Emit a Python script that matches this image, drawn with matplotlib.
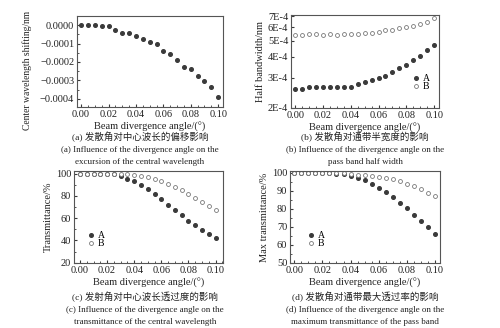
import numpy as np
import matplotlib
matplotlib.use("Agg")
import matplotlib.pyplot as plt
from matplotlib.ticker import FuncFormatter, MultipleLocator, FixedLocator, NullFormatter

plt.rcParams['font.family'] = ['Liberation Serif', 'Noto Sans CJK SC']
plt.rcParams['font.size'] = 7.5

# beam divergence angle, degrees
angle = [0.000, 0.005, 0.010, 0.015, 0.020, 0.025, 0.030, 0.035, 0.040, 0.045, 0.050,
         0.055, 0.060, 0.065, 0.070, 0.075, 0.080, 0.085, 0.090, 0.095, 0.100]

# (a) center wavelength shift, nm
shift = [0.0, 0.0, 0.0, -0.000007, -0.000007, -0.000025, -0.00004, -0.00004, -0.000057,
         -0.000075, -0.00009, -0.000105, -0.00014, -0.000155, -0.00019, -0.000225,
         -0.00024, -0.000275, -0.000305, -0.000338, -0.000388]

# (b) half bandwidth, nm
hbw_a = [2.57e-4, 2.57e-4, 2.66e-4, 2.66e-4, 2.66e-4, 2.66e-4, 2.66e-4, 2.66e-4, 2.66e-4,
         2.75e-4, 2.83e-4, 2.91e-4, 2.99e-4, 3.08e-4, 3.24e-4, 3.42e-4, 3.58e-4,
         3.82e-4, 4.08e-4, 4.42e-4, 4.72e-4]
hbw_b = [5.4e-4, 5.4e-4, 5.5e-4, 5.5e-4, 5.42e-4, 5.5e-4, 5.4e-4, 5.48e-4, 5.48e-4,
         5.48e-4, 5.58e-4, 5.58e-4, 5.65e-4, 5.75e-4, 5.82e-4, 5.92e-4, 6.0e-4,
         6.12e-4, 6.3e-4, 6.45e-4, 6.8e-4]

# (c) transmittance, %
tr_a = [100, 100, 100, 100, 100, 99.5, 97.5, 95.5, 93, 90, 86.5, 82, 77, 72, 67,
        62.5, 57.5, 53.5, 49.5, 46, 42.5]
tr_b = [100, 100, 100, 100, 100, 100, 100, 99.6, 98.6, 97.4, 96.5, 95, 93, 90.5, 88,
        85, 81.5, 78, 74.5, 71, 67.5]

# (d) max transmittance, %
mt_a = [100, 100, 100, 100, 100, 100, 99.6, 99.3, 98.3, 97.2, 96, 94.1, 91.9, 89.4,
        86.7, 83.5, 80.4, 76.9, 73.3, 69.8, 66.3]
mt_b = [100, 100, 100, 100, 100, 100, 100, 99.8, 99.5, 99.1, 98.9, 98.5, 98, 97.2,
        96.5, 95.4, 93.9, 92.6, 91, 89.1, 87]

xlab = 'Beam divergence angle/(°)'
col = '#3a3a3a'

W, H = 500, 328
fig = plt.figure(figsize=(W / 100, H / 100), dpi=100)


def add_ax(l, t, r, b):
    return fig.add_axes([l / W, 1 - b / H, (r - l) / W, (b - t) / H])


def style(ax):
    ax.tick_params(which='both', direction='in', color=col, labelcolor='#222222',
                   labelsize=7.5, pad=2)
    ax.tick_params(which='major', length=2.5)
    ax.tick_params(which='minor', length=1.5)
    for s in ax.spines.values():
        s.set_color('#555555')
        s.set_linewidth(0.8)
    ax.xaxis.set_major_locator(MultipleLocator(0.02))
    ax.xaxis.set_minor_locator(MultipleLocator(0.005))
    ax.xaxis.set_major_formatter(FuncFormatter(lambda v, p: '%.2f' % v))
    ax.set_xlabel(xlab, fontsize=7.5, labelpad=2, color='#222222')


def filled(ax, x, y, label=None):
    ax.plot(x, y, 'o', ms=2.6, color=col, mec=col, label=label)


def hollow(ax, x, y, label=None):
    ax.plot(x, y, 'o', ms=2.8, mfc='white', mec='#777777', mew=0.6, label=label)


def legend(ax, loc, anchor):
    ax.legend(loc=loc, bbox_to_anchor=anchor, frameon=False, fontsize=7,
              handlelength=0.6, handletextpad=0.4, labelspacing=-0.1, borderpad=0)


def caption(cx, y0, lines):
    fig.text(cx / W, 1 - y0 / H, lines[0], ha='center', va='center', fontsize=6.8,
             color='#222222')
    for i, s in enumerate(lines[1:]):
        fig.text(cx / W, 1 - (y0 + 13 + 12 * i) / H, s, ha='center', va='center',
                 fontsize=6.5, color='#222222')


# (a)
ax = add_ax(77, 16, 223, 107)
filled(ax, angle, shift)
ax.set_xlim(-0.003, 0.1035)
ax.set_ylim(-0.000445, 0.00005)
ax.yaxis.set_major_locator(MultipleLocator(0.0001))
ax.yaxis.set_minor_locator(MultipleLocator(0.00005))
ax.yaxis.set_major_formatter(FuncFormatter(
    lambda v, p: ('%.4f' % abs(v)) if abs(v) < 1e-9 else ('%.4f' % v).replace('-', '−')))
style(ax)
ax.set_ylabel('Center wavelength shifting/nm', fontsize=6.9, color='#222222')
ax.yaxis.set_label_coords(-0.305, 0.40)

# (b)
ax = add_ax(291, 15, 439, 108)
filled(ax, angle, hbw_a, 'A')
hollow(ax, angle, hbw_b, 'B')
ax.set_yscale('log')
ax.set_xlim(-0.003, 0.1035)
ax.set_ylim(1.99e-4, 7.1e-4)
yt = [2e-4, 3e-4, 4e-4, 5e-4, 6e-4, 7e-4]
ax.yaxis.set_major_locator(FixedLocator(yt))
ax.yaxis.set_minor_locator(FixedLocator([]))
ax.yaxis.set_major_formatter(FuncFormatter(lambda v, p: '%dE-4' % round(v * 1e4)))
ax.yaxis.set_minor_formatter(NullFormatter())
style(ax)
ax.set_ylabel('Half bandwidth/nm', fontsize=7.5, labelpad=2, color='#222222')
legend(ax, 'lower right', (0.97, 0.13))

# (c)
ax = add_ax(74, 171, 223, 263)
filled(ax, angle, tr_a, 'A')
hollow(ax, angle, tr_b, 'B')
ax.set_xlim(-0.0044, 0.1055)
ax.set_ylim(19.7, 102.3)
ax.yaxis.set_major_locator(MultipleLocator(20))
ax.yaxis.set_minor_locator(MultipleLocator(10))
ax.yaxis.set_major_formatter(FuncFormatter(lambda v, p: '%d' % v))
style(ax)
ax.set_ylabel('Transmittance/%', fontsize=7.5, labelpad=2, color='#222222')
legend(ax, 'lower left', (0.06, 0.11))

# (d)
ax = add_ax(290, 171, 440, 263)
filled(ax, angle, mt_a, 'A')
hollow(ax, angle, mt_b, 'B')
ax.set_xlim(-0.003, 0.1035)
ax.set_ylim(50, 101.1)
ax.yaxis.set_major_locator(MultipleLocator(10))
ax.yaxis.set_minor_locator(MultipleLocator(5))
ax.yaxis.set_major_formatter(FuncFormatter(lambda v, p: '%d' % v))
style(ax)
ax.set_ylabel('Max transmittance/%', fontsize=7.5, labelpad=2, color='#222222')
legend(ax, 'lower left', (0.09, 0.11))

caption(140, 137, ['(a) 发散角对中心波长的偏移影响',
                   '(a) Influence of the divergence angle on the',
                   'excursion of the central wavelength'])
caption(365, 137, ['(b) 发散角对通带半宽度的影响',
                   '(b) Influence of the divergence angle on the',
                   'pass band half width'])
caption(145, 297, ['(c) 发射角对中心波长透过度的影响',
                   '(c) Influence of the divergence angle on the',
                   'transmittance of the central wavelength'])
caption(365, 297, ['(d) 发散角对通带最大透过率的影响',
                   '(d) Influence of the divergence angle on the',
                   'maximum transmittance of the pass band'])

fig.savefig('out.png', dpi=100)
